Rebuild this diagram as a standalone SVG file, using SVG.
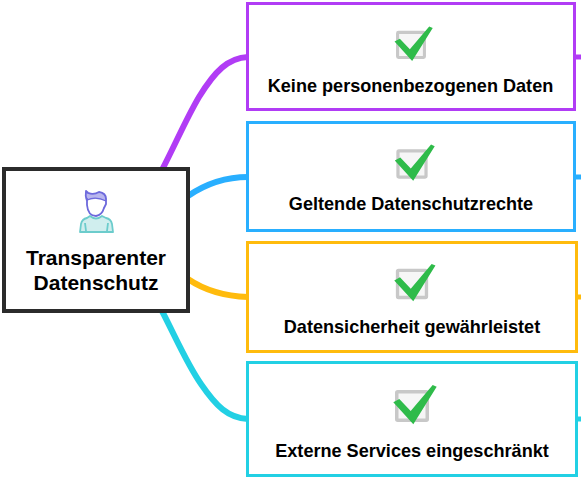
<svg xmlns="http://www.w3.org/2000/svg" xmlns:xlink="http://www.w3.org/1999/xlink" width="581" height="480" viewBox="0 0 581 480">
<style>
.c{fill:none;stroke-width:6}
.s{fill:none;stroke-width:5}
.b{fill:#fff;stroke-width:3}
.t{font-family:"Liberation Sans",Arial,sans-serif;font-weight:700;font-size:18.1px;fill:#000;text-anchor:middle}
.h{font-size:21px}
</style>
<defs>
<g id="check">
<rect x="-15.250" y="-13.250" width="30.500" height="28.500" rx="1" fill="#f6f6f6" stroke="#c8c8c8" stroke-width="3.500"/>
<path d="M-18.700 -2.700L-12.700 -6L-1.300 6L20.700 -20L24.700 -18.300L1.300 19.300Z" fill="#2fbb4a"/>
</g>
</defs>
<rect width="581" height="480" fill="#fff"/>
<g id="connectors">
<path class="c" stroke="#b13cf5" d="M162 170C176 143 186 119 199 97C215 71 228 58 248 57"/>
<path class="c" stroke="#29afff" d="M188 196C204 185 222 177 248 177"/>
<path class="c" stroke="#ffbb0d" d="M188 279C204 290 222 296 248 297"/>
<path class="c" stroke="#22d0e4" d="M162 311C176 338 187 364 201 384C216 406 228 418 248 419"/>
<path class="s" stroke="#b13cf5" d="M574 57H581"/>
<path class="s" stroke="#29afff" d="M574 177H581"/>
<path class="s" stroke="#ffbb0d" d="M574 297H581"/>
<path class="s" stroke="#22d0e4" d="M574 419H581"/>
</g>
<g id="node-root">
<rect x="4" y="169" width="184" height="142" fill="#fff" stroke="#2b2b2b" stroke-width="4"/>
<path d="M80 232L81 224Q82 219 87 218L90 216Q96 221 102 216L106 218Q111 219 112 224L113 232Z" fill="#d0eeee" stroke="#6ccccc" stroke-width="1.800" stroke-linejoin="round"/>
<path d="M85 223L86 231M108 223L107 231" stroke="#6ccccc" stroke-width="1.800" fill="none"/>
<path d="M85 198Q85 192 87 191Q93 195 98 193Q105 193 107 199L106 201Q95 197 86 201Z" fill="#b9b6ee"/>
<path d="M87 199V205Q88 216 96 216Q102 215 104 208" fill="none" stroke="#6d69dc" stroke-width="1.800" stroke-linecap="round"/>
<path d="M87 200Q85 196 86 191L88 193Q94 195 99 192Q106 193 106 199V204L104 208" fill="none" stroke="#6d69dc" stroke-width="1.800" stroke-linejoin="round"/>
<path d="M87 200Q96 196 106 201" fill="none" stroke="#6d69dc" stroke-width="1.200"/>
<text class="t h" x="96" y="265">Transparenter</text>
<text class="t h" x="96" y="290">Datenschutz</text>
</g>
<g id="node-1">
<rect class="b" x="247.500" y="3.500" width="327" height="106" stroke="#b13cf5"/>
<use xlink:href="#check" href="#check" transform="translate(411 44) scale(.88)"/>
<text class="t" x="410.500" y="92">Keine personenbezogenen Daten</text>
</g>
<g id="node-2">
<rect class="b" x="247.500" y="122.500" width="327" height="108" stroke="#29afff"/>
<use xlink:href="#check" href="#check" transform="translate(412 163) scale(.92)"/>
<text class="t" x="411" y="210">Geltende Datenschutzrechte</text>
</g>
<g id="node-3">
<rect class="b" x="247.500" y="242.500" width="329" height="109" stroke="#ffbb0d"/>
<use xlink:href="#check" href="#check" transform="translate(412 283) scale(.95)"/>
<text class="t" x="412" y="333">Datensicherheit gewährleistet</text>
</g>
<g id="node-4">
<rect class="b" x="247.500" y="362.500" width="329" height="113" stroke="#22d0e4"/>
<use xlink:href="#check" href="#check" x="412" y="405"/>
<text class="t" x="412" y="457">Externe Services eingeschränkt</text>
</g>
</svg>
